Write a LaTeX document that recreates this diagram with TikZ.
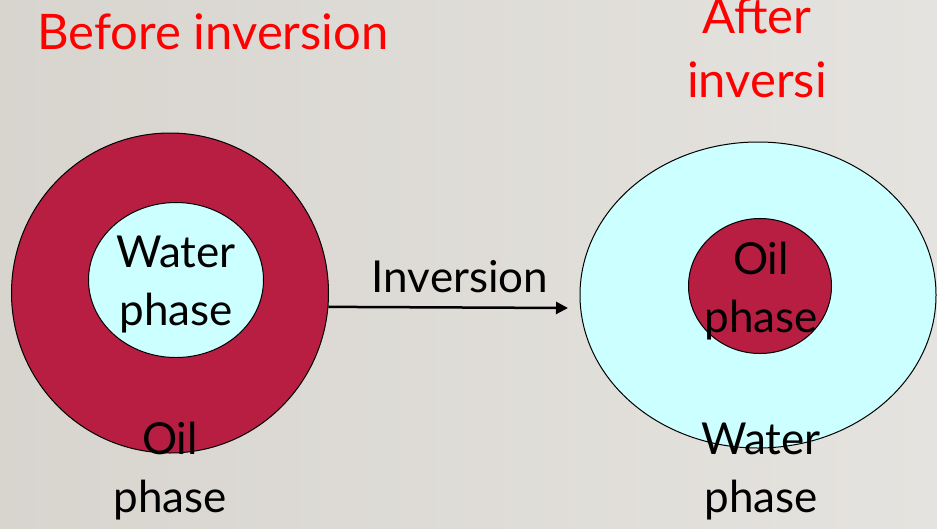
\documentclass[tikz,border=0pt]{standalone}
\usepackage{fontspec}
\setmainfont{Lato}
\usetikzlibrary{shapes.geometric,arrows.meta}
\definecolor{oilred}{RGB}{183,30,66}
\definecolor{watercyan}{RGB}{204,255,255}
\definecolor{bgleft}{RGB}{216,213,207}
\definecolor{bgright}{RGB}{229,227,223}
\definecolor{titlered}{RGB}{255,0,0}
\tikzset{
  phase/.style={ellipse, draw=black, line width=1pt, inner sep=0pt},
  oil/.style={phase, fill=oilred},
  water/.style={phase, fill=watercyan},
  lbl/.style={font=\fontsize{44}{58}\selectfont, text=black, align=center, anchor=base, inner sep=0pt},
  title/.style={font=\fontsize{49}{64}\selectfont, text=titlered, align=center, anchor=base, inner sep=0pt},
}
\begin{document}
\begin{tikzpicture}[x=1pt,y=-1pt]
\useasboundingbox (0,0) rectangle (937,528);
\shade[left color=bgleft, right color=bgright] (0,0) rectangle (937,528);
% left
\node[oil, minimum width=317pt, minimum height=320pt] (outerL) at (170,293) {};
\node[water, minimum width=175pt, minimum height=155pt] (innerL) at (176,280) {};
% right
\node[water, minimum width=356pt, minimum height=306pt] (outerR) at (758,295) {};
\node[oil, minimum width=143pt, minimum height=135pt] (innerR) at (760,286) {};
% arrow
\coordinate (arrEnd) at (568,308);
\draw[line width=2.5pt, -{Triangle[length=12pt,width=12pt]}] (outerL.-5.5) -- (arrEnd);
\node[lbl] (inv) at (460,292) {Inversion};
% labels
\node[lbl] (wL) at (176,325) {Water\\phase};
\node[lbl] (oL) at (170,512) {Oil\\phase};
\node[lbl] (oR) at (761,332) {Oil\\phase};
\node[lbl] (wR) at (761,512) {Water\\phase};
\node[title] (before) at (213,49) {Before inversion};
\node[title] (after) at (757,97) {After\\inversi};
\end{tikzpicture}
\end{document}
